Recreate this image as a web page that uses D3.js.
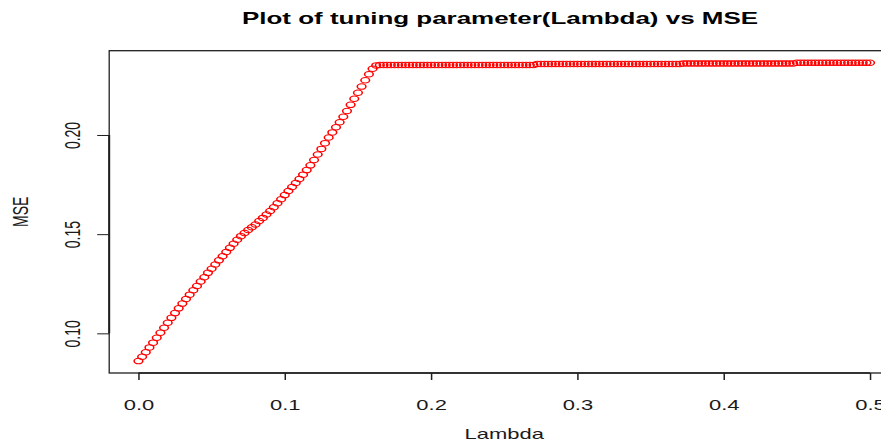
<!DOCTYPE html>
<html>
<head>
<meta charset="utf-8">
<script src="https://cdn.jsdelivr.net/npm/d3@7"></script>
<style>
  html, body { margin: 0; padding: 0; background: #ffffff; }
  svg { display: block; }
  text { font-family: "Liberation Sans", Arial, sans-serif; fill: #1a1a1a; }
</style>
</head>
<body>
<svg id="chart" width="881" height="443"></svg>
<script>
// Tuning parameter grid
const lambda = [
  0, 0.0025, 0.005, 0.0075, 0.01, 0.0125, 0.015, 0.0175, 0.02, 0.0225,
  0.025, 0.0275, 0.03, 0.0325, 0.035, 0.0375, 0.04, 0.0425, 0.045, 0.0475,
  0.05, 0.0525, 0.055, 0.0575, 0.06, 0.0625, 0.065, 0.0675, 0.07, 0.0725,
  0.075, 0.0775, 0.08, 0.0825, 0.085, 0.0875, 0.09, 0.0925, 0.095, 0.0975,
  0.1, 0.1025, 0.105, 0.1075, 0.11, 0.1125, 0.115, 0.1175, 0.12, 0.1225,
  0.125, 0.1275, 0.13, 0.1325, 0.135, 0.1375, 0.14, 0.1425, 0.145, 0.1475,
  0.15, 0.1525, 0.155, 0.1575, 0.16, 0.1625, 0.165, 0.1675, 0.17, 0.1725,
  0.175, 0.1775, 0.18, 0.1825, 0.185, 0.1875, 0.19, 0.1925, 0.195, 0.1975,
  0.2, 0.2025, 0.205, 0.2075, 0.21, 0.2125, 0.215, 0.2175, 0.22, 0.2225,
  0.225, 0.2275, 0.23, 0.2325, 0.235, 0.2375, 0.24, 0.2425, 0.245, 0.2475,
  0.25, 0.2525, 0.255, 0.2575, 0.26, 0.2625, 0.265, 0.2675, 0.27, 0.2725,
  0.275, 0.2775, 0.28, 0.2825, 0.285, 0.2875, 0.29, 0.2925, 0.295, 0.2975,
  0.3, 0.3025, 0.305, 0.3075, 0.31, 0.3125, 0.315, 0.3175, 0.32, 0.3225,
  0.325, 0.3275, 0.33, 0.3325, 0.335, 0.3375, 0.34, 0.3425, 0.345, 0.3475,
  0.35, 0.3525, 0.355, 0.3575, 0.36, 0.3625, 0.365, 0.3675, 0.37, 0.3725,
  0.375, 0.3775, 0.38, 0.3825, 0.385, 0.3875, 0.39, 0.3925, 0.395, 0.3975,
  0.4, 0.4025, 0.405, 0.4075, 0.41, 0.4125, 0.415, 0.4175, 0.42, 0.4225,
  0.425, 0.4275, 0.43, 0.4325, 0.435, 0.4375, 0.44, 0.4425, 0.445, 0.4475,
  0.45, 0.4525, 0.455, 0.4575, 0.46, 0.4625, 0.465, 0.4675, 0.47, 0.4725,
  0.475, 0.4775, 0.48, 0.4825, 0.485, 0.4875, 0.49, 0.4925, 0.495, 0.4975,
  0.5
];

// Cross-validated mean squared error at each lambda
const mse = [
  0.0860, 0.0882, 0.0905, 0.0929, 0.0953, 0.0978, 0.1003, 0.1028, 0.1053, 0.1078,
  0.1102, 0.1126, 0.1150, 0.1173, 0.1195, 0.1217, 0.1239, 0.1261, 0.1283, 0.1305,
  0.1326, 0.1347, 0.1368, 0.1389, 0.1410, 0.1431, 0.1452, 0.1472, 0.1490, 0.1506,
  0.1521, 0.1535, 0.1549, 0.1566, 0.1582, 0.1599, 0.1617, 0.1636, 0.1656, 0.1676,
  0.1697, 0.1718, 0.1738, 0.1758, 0.1778, 0.1800, 0.1823, 0.1847, 0.1874, 0.1902,
  0.1930, 0.1959, 0.1987, 0.2013, 0.2039, 0.2064, 0.2092, 0.2121, 0.2152, 0.2183,
  0.2213, 0.2244, 0.2276, 0.2306, 0.2334, 0.2351, 0.2353, 0.2353, 0.2353, 0.2353,
  0.2353, 0.2353, 0.2353, 0.2353, 0.2353, 0.2353, 0.2353, 0.2353, 0.2353, 0.2353,
  0.2353, 0.2353, 0.2353, 0.2353, 0.2353, 0.2353, 0.2353, 0.2353, 0.2353, 0.2353,
  0.2353, 0.2353, 0.2353, 0.2353, 0.2353, 0.2353, 0.2353, 0.2353, 0.2353, 0.2353,
  0.2353, 0.2353, 0.2353, 0.2353, 0.2353, 0.2353, 0.2353, 0.2353, 0.2353, 0.2358,
  0.2358, 0.2358, 0.2358, 0.2358, 0.2358, 0.2358, 0.2358, 0.2358, 0.2358, 0.2358,
  0.2358, 0.2358, 0.2358, 0.2358, 0.2358, 0.2358, 0.2358, 0.2358, 0.2358, 0.2358,
  0.2358, 0.2358, 0.2358, 0.2358, 0.2358, 0.2358, 0.2358, 0.2358, 0.2358, 0.2358,
  0.2358, 0.2358, 0.2358, 0.2358, 0.2358, 0.2358, 0.2358, 0.2358, 0.2358, 0.2361,
  0.2361, 0.2361, 0.2361, 0.2361, 0.2361, 0.2361, 0.2361, 0.2361, 0.2361, 0.2361,
  0.2361, 0.2361, 0.2361, 0.2361, 0.2361, 0.2361, 0.2361, 0.2361, 0.2361, 0.2361,
  0.2361, 0.2361, 0.2361, 0.2361, 0.2361, 0.2361, 0.2361, 0.2361, 0.2361, 0.2361,
  0.2364, 0.2364, 0.2364, 0.2364, 0.2364, 0.2364, 0.2364, 0.2364, 0.2364, 0.2364,
  0.2364, 0.2364, 0.2364, 0.2364, 0.2364, 0.2364, 0.2364, 0.2364, 0.2364, 0.2364,
  0.2364
];

const xTicks = [0, 0.1, 0.2, 0.3, 0.4, 0.5];
const xTickLabels = ["0.0", "0.1", "0.2", "0.3", "0.4", "0.5"];
const yTicks = [0.10, 0.15, 0.20];
const yTickLabels = ["0.10", "0.15", "0.20"];

const titleText = "Plot of tuning parameter(Lambda) vs MSE";
const xLabel = "Lambda";
const yLabel = "MSE";

// Horizontal stretch of the device
const SX = 1.57;

const svg = d3.select("#chart");
const box = { left: 109.2, right: 899.3, top: 50.7, bottom: 373.0 };

const x = d3.scaleLinear().domain([-0.02, 0.52]).range([box.left, box.right]);
const y = d3.scaleLinear().domain([0.080, 0.2425]).range([box.bottom, box.top]);

const ink = "#1f1f1f";

// Points: open circles, widened with the device stretch
svg.append("g")
  .selectAll("g")
  .data(lambda.map((l, i) => ({ l, m: mse[i] })))
  .join("g")
  .attr("transform", d => `translate(${x(d.l)},${y(d.m)}) scale(${SX},1)`)
  .append("circle")
  .attr("r", 2.75)
  .attr("fill", "none")
  .attr("stroke", "#ff0000")
  .attr("stroke-width", 1);

// Plot frame
svg.append("rect")
  .attr("x", box.left)
  .attr("y", box.top)
  .attr("width", box.right - box.left)
  .attr("height", box.bottom - box.top)
  .attr("fill", "none")
  .attr("stroke", ink)
  .attr("stroke-width", 1.3);

// Bottom axis
const xAxis = d3.axisBottom(x)
  .tickValues(xTicks)
  .tickSize(7)
  .tickFormat(() => "");
const gx = svg.append("g")
  .attr("transform", `translate(0,${box.bottom})`)
  .call(xAxis);
gx.select(".domain")
  .attr("d", `M${x(xTicks[0])},0H${x(xTicks[xTicks.length - 1])}`)
  .attr("stroke", ink).attr("stroke-width", 1.3);
gx.selectAll(".tick line").attr("stroke", ink).attr("stroke-width", 1.5);
gx.selectAll(".tick").append("g")
  .attr("transform", `translate(0,37) scale(${SX},1)`)
  .append("text")
  .attr("text-anchor", "middle")
  .attr("font-size", 14)
  .text((d, i) => xTickLabels[i]);

// Left axis
const yAxis = d3.axisLeft(y)
  .tickValues(yTicks)
  .tickSize(12)
  .tickFormat(() => "");
const gy = svg.append("g")
  .attr("transform", `translate(${box.left},0)`)
  .call(yAxis);
gy.select(".domain")
  .attr("d", `M0,${y(yTicks[0])}V${y(yTicks[yTicks.length - 1])}`)
  .attr("stroke", ink).attr("stroke-width", 2);
gy.selectAll(".tick line").attr("stroke", ink).attr("stroke-width", 1);
gy.selectAll(".tick").append("g")
  .attr("transform", `translate(${80 - box.left},0) scale(${SX},1) rotate(-90)`)
  .append("text")
  .attr("text-anchor", "middle")
  .attr("font-size", 14)
  .text((d, i) => yTickLabels[i]);

// Axis titles
svg.append("g")
  .attr("transform", `translate(${(box.left + box.right) / 2},439) scale(${SX},1)`)
  .append("text")
  .attr("text-anchor", "middle")
  .attr("font-size", 14)
  .text(xLabel);

svg.append("g")
  .attr("transform", `translate(28,${(box.top + box.bottom) / 2}) scale(${SX},1) rotate(-90)`)
  .append("text")
  .attr("text-anchor", "middle")
  .attr("font-size", 14)
  .text(yLabel);

// Main title
svg.append("text")
  .attr("x", 500)
  .attr("y", 24)
  .attr("text-anchor", "middle")
  .attr("font-size", 17)
  .attr("font-weight", "bold")
  .attr("textLength", 516)
  .attr("lengthAdjust", "spacingAndGlyphs")
  .style("fill", "#000")
  .text(titleText);
</script>
</body>
</html>
